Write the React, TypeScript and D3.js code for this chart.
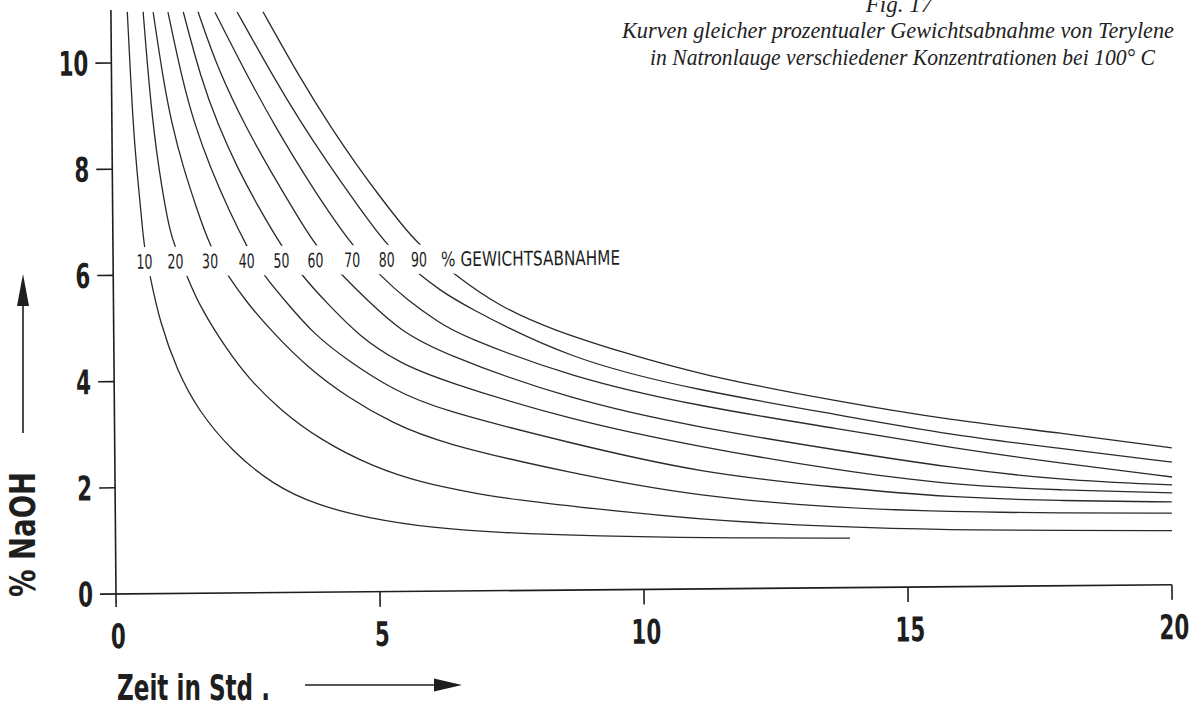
import React, { useEffect, useRef } from "react";
import * as d3 from "d3";

// Zeit in Std. (x) / % NaOH (y)
const timeTicks = [0, 5, 10, 15, 20];
const naohTicks = [0, 2, 4, 6, 8, 10];
const lossLevels = [10, 20, 30, 40, 50, 60, 70, 80, 90];

// curves of equal % weight loss, [t, %NaOH]
const loss10 = [[0.31, 10.96], [0.40, 8.83], [0.46, 8.04], [0.57, 6.79], [0.595, 6.53], [0.70, 5.96], [0.88, 5.10], [1.19, 4.21], [1.58, 3.45], [2.22, 2.67], [2.99, 2.03], [3.82, 1.64], [4.77, 1.39], [6.01, 1.19], [7.28, 1.09], [9.18, 1.01], [11.07, 0.96], [13.91, 0.93]];
const loss20 = [[0.61, 10.96], [0.73, 9.30], [0.87, 8.03], [1.08, 6.79], [1.18, 6.53], [1.40, 5.96], [1.64, 5.39], [2.14, 4.58], [2.57, 4.01], [3.14, 3.44], [3.89, 2.87], [4.89, 2.35], [5.83, 2.04], [6.72, 1.86], [7.29, 1.75], [8.61, 1.58], [11.07, 1.30], [13.72, 1.14], [15.81, 1.07], [17.89, 1.04], [20.01, 1.02]];
const loss30 = [[0.80, 10.95], [0.98, 9.67], [1.14, 8.82], [1.34, 8.03], [1.60, 7.22], [1.84, 6.52], [2.16, 5.99], [2.53, 5.46], [3.02, 4.89], [3.66, 4.24], [4.41, 3.67], [5.27, 3.17], [6.16, 2.79], [8.62, 2.20], [11.08, 1.73], [13.73, 1.50], [15.81, 1.41], [17.89, 1.37], [20.01, 1.35]];
const loss40 = [[1.08, 10.95], [1.34, 9.67], [1.57, 8.82], [1.85, 8.03], [2.20, 7.21], [2.54, 6.51], [2.84, 5.98], [3.29, 5.45], [3.77, 4.88], [4.41, 4.37], [5.28, 3.80], [6.17, 3.41], [8.62, 2.77], [11.08, 2.18], [13.73, 1.88], [15.81, 1.68], [17.89, 1.60], [20.01, 1.56]];
const loss50 = [[1.37, 10.95], [1.70, 9.67], [2.01, 8.82], [2.36, 8.02], [2.79, 7.21], [3.20, 6.51], [3.59, 5.94], [4.04, 5.45], [4.66, 4.80], [5.42, 4.30], [6.17, 3.98], [8.63, 3.20], [11.09, 2.67], [13.73, 2.20], [15.81, 1.92], [17.90, 1.80], [20.02, 1.73]];
const loss60 = [[1.65, 10.95], [2.02, 9.85], [2.56, 8.72], [3.02, 7.90], [3.43, 7.20], [3.85, 6.50], [4.33, 5.97], [4.80, 5.50], [5.42, 4.92], [6.18, 4.49], [8.63, 3.58], [11.09, 3.03], [13.74, 2.58], [15.82, 2.24], [17.90, 1.99], [20.02, 1.88]];
const loss70 = [[1.97, 10.94], [2.61, 9.66], [3.13, 8.71], [3.70, 7.76], [4.09, 7.16], [4.55, 6.50], [5.05, 5.96], [5.56, 5.49], [6.18, 5.05], [6.56, 4.82], [8.63, 4.01], [11.09, 3.43], [13.74, 2.99], [15.82, 2.62], [17.90, 2.31], [20.02, 2.03]];
const loss80 = [[2.39, 10.94], [3.10, 9.65], [3.55, 8.90], [4.08, 8.08], [4.66, 7.25], [5.21, 6.49], [5.75, 6.00], [6.19, 5.67], [6.56, 5.42], [8.64, 4.33], [11.09, 3.73], [13.74, 3.25], [15.82, 2.86], [17.90, 2.59], [20.02, 2.31]];
const loss90 = [[2.88, 10.94], [3.59, 9.65], [4.18, 8.70], [4.60, 8.08], [5.07, 7.43], [5.45, 6.94], [5.76, 6.56], [6.42, 5.99], [7.32, 5.34], [8.32, 4.90], [9.59, 4.48], [11.10, 4.03], [13.74, 3.50], [15.82, 3.14], [17.91, 2.88], [20.02, 2.58]];
const lossCurves = [loss10, loss20, loss30, loss40, loss50, loss60, loss70, loss80, loss90];

const titleLines = [
  "Fig. 17",
  "Kurven gleicher prozentualer Gewichtsabnahme von Terylene",
  "in Natronlauge verschiedener Konzentrationen bei 100° C",
];

const narrow = "'Liberation Sans Narrow', 'DejaVu Sans Condensed', 'Arial Narrow', sans-serif";
const serif = "'Liberation Serif', 'Times New Roman', serif";
const ink = "#1e1e1e";

// t where a curve first drops to a given concentration
function crossAt(pts, level) {
  for (let i = 1; i < pts.length; i++) {
    const [t0, c0] = pts[i - 1];
    const [t1, c1] = pts[i];
    if (c0 >= level && c1 <= level) return t0 + ((c0 - level) / (c0 - c1)) * (t1 - t0);
  }
  return pts[0][0];
}

export default function App() {
  const svgRef = useRef(null);

  useEffect(() => {
    const W = 1202, H = 712;
    const svg = d3.select(svgRef.current);
    svg.selectAll("*").remove();
    svg.append("rect").attr("width", W).attr("height", H).attr("fill", "#fff");

    const x = d3.scaleLinear().domain([0, 20]).range([116, 1172]);
    const y = d3.scaleLinear().domain([0, 11]).range([594, 594 - 11 * 53.1]);

    // the scanned page is slightly turned
    const plot = svg.append("g").attr("transform", `rotate(-0.5, ${x(0)}, ${y(0)})`);

    const line = d3.line().x(d => x(d[0])).y(d => y(d[1])).curve(d3.curveBasis);
    plot.append("g").selectAll("path").data(lossCurves).join("path")
      .attr("d", line)
      .attr("fill", "none")
      .attr("stroke", "#2a2a2a")
      .attr("stroke-width", 1.3);

    // gap in the curves for the label row
    const gapTop = 6.53, gapBottom = 5.98;
    plot.append("rect")
      .attr("x", x(0.15)).attr("y", y(gapTop))
      .attr("width", x(7.2) - x(0.15)).attr("height", y(gapBottom) - y(gapTop))
      .attr("fill", "#fff");

    const labelT = lossCurves.map(c => crossAt(c, gapTop));
    const labelY = y((gapTop + gapBottom) / 2);
    plot.append("g").selectAll("text").data(lossLevels).join("text")
      .attr("transform", (d, i) => `translate(${x(labelT[i])},${labelY}) scale(0.7,1)`)
      .attr("text-anchor", "middle")
      .attr("dy", "0.36em")
      .attr("font-family", narrow)
      .attr("font-size", 20)
      .attr("fill", ink)
      .text(d => d);
    plot.append("text")
      .attr("x", x(labelT[labelT.length - 1]) + 22)
      .attr("y", labelY)
      .attr("dy", "0.36em")
      .attr("font-family", narrow)
      .attr("font-size", 20)
      .attr("textLength", 179)
      .attr("lengthAdjust", "spacingAndGlyphs")
      .attr("fill", ink)
      .text("% GEWICHTSABNAHME");

    // axes
    const axis = plot.append("g").attr("stroke", ink).attr("stroke-width", 1.6).attr("fill", "none");
    axis.append("line").attr("x1", x(0)).attr("x2", x(0)).attr("y1", y(0) + 13).attr("y2", y(11));
    axis.append("line").attr("x1", x(0) - 16).attr("x2", x(20)).attr("y1", y(0)).attr("y2", y(0));
    axis.selectAll(".yt").data(naohTicks.filter(v => v > 0)).join("line")
      .attr("x1", x(0) - 16).attr("x2", x(0)).attr("y1", d => y(d)).attr("y2", d => y(d));
    axis.selectAll(".xt").data(timeTicks.filter(v => v > 0)).join("line")
      .attr("x1", d => x(d)).attr("x2", d => x(d)).attr("y1", y(0)).attr("y2", y(0) + 15);

    plot.append("g").selectAll("g").data(naohTicks).join("g")
      .attr("transform", d => `translate(${x(0) - 23},${y(d)}) scale(0.7,1)`)
      .append("text")
      .attr("text-anchor", "end")
      .attr("dy", "0.36em")
      .attr("font-family", narrow)
      .attr("font-weight", "bold")
      .attr("font-size", 34)
      .attr("fill", ink)
      .text(d => d);

    plot.append("g").selectAll("g").data(timeTicks).join("g")
      .attr("transform", d => `translate(${x(d) + 2},${y(0) + 42}) scale(0.7,1)`)
      .append("text")
      .attr("text-anchor", "middle")
      .attr("dy", "0.36em")
      .attr("font-family", narrow)
      .attr("font-weight", "bold")
      .attr("font-size", 34)
      .attr("fill", ink)
      .text(d => d);

    // axis titles with arrows
    svg.append("text")
      .attr("transform", "translate(35,597) rotate(-90)")
      .attr("font-family", narrow)
      .attr("font-weight", "bold")
      .attr("font-size", 35)
      .attr("textLength", 125)
      .attr("lengthAdjust", "spacingAndGlyphs")
      .attr("fill", ink)
      .text("% NaOH");
    svg.append("line").attr("x1", 23).attr("x2", 23).attr("y1", 433).attr("y2", 300)
      .attr("stroke", ink).attr("stroke-width", 1.6);
    svg.append("path").attr("d", "M23,274 L17,306 L29,306 Z").attr("fill", ink);

    svg.append("text")
      .attr("x", 117).attr("y", 700)
      .attr("font-family", narrow)
      .attr("font-weight", "bold")
      .attr("font-size", 36)
      .attr("textLength", 153)
      .attr("lengthAdjust", "spacingAndGlyphs")
      .attr("fill", ink)
      .text("Zeit in Std .");
    svg.append("line").attr("x1", 305).attr("x2", 440).attr("y1", 685).attr("y2", 685)
      .attr("stroke", ink).attr("stroke-width", 1.6);
    svg.append("path").attr("d", "M462,685 L434,678.5 L434,691.5 Z").attr("fill", ink);

    // caption
    const cap = svg.append("g").attr("font-family", serif).attr("font-style", "italic")
      .attr("font-size", 23).attr("fill", "#222");
    cap.append("text").attr("x", 899).attr("y", 12).attr("text-anchor", "middle").text(titleLines[0]);
    cap.append("text").attr("x", 622).attr("y", 38)
      .attr("textLength", 552).attr("lengthAdjust", "spacingAndGlyphs").text(titleLines[1]);
    cap.append("text").attr("x", 650).attr("y", 65)
      .attr("textLength", 505).attr("lengthAdjust", "spacingAndGlyphs").text(titleLines[2]);
  }, []);

  return (
    <svg ref={svgRef} width={1202} height={712}
      style={{ position: "absolute", left: 0, top: 0, display: "block" }} />
  );
}
